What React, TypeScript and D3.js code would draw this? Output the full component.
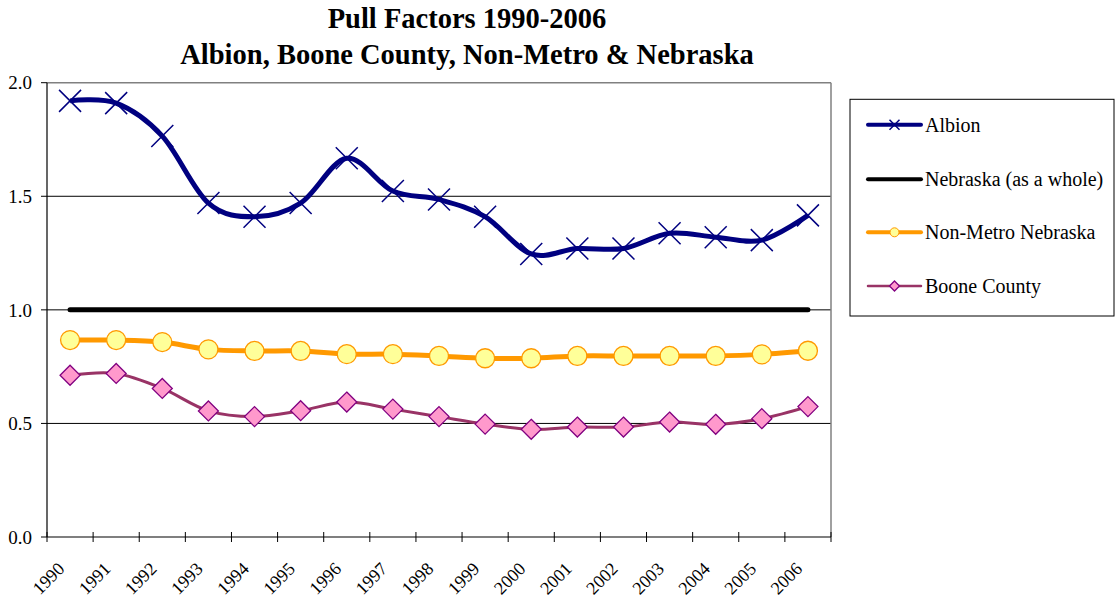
import React, { useEffect } from "react";
import * as d3 from "d3";

const years = ["1990","1991","1992","1993","1994","1995","1996","1997","1998","1999","2000","2001","2002","2003","2004","2005","2006"];
const albion = [1.92,1.91,1.765,1.47,1.41,1.47,1.667,1.523,1.486,1.41,1.246,1.27,1.27,1.337,1.32,1.307,1.416];
const nebraska = [1,1,1,1,1,1,1,1,1,1,1,1,1,1,1,1,1];
const nonMetro = [0.867,0.867,0.858,0.826,0.819,0.819,0.805,0.805,0.797,0.787,0.787,0.797,0.797,0.797,0.797,0.804,0.82];
const boone = [0.712,0.72,0.654,0.555,0.53,0.556,0.594,0.563,0.53,0.497,0.474,0.484,0.484,0.506,0.496,0.521,0.574];
const yTicks = [0, 0.5, 1.0, 1.5, 2.0];
const titleLines = ["Pull Factors 1990-2006", "Albion, Boone County, Non-Metro & Nebraska"];
const legendLabels = ["Albion", "Nebraska (as a whole)", "Non-Metro Nebraska", "Boone County"];

const W = 1118, H = 599;
const L = 47, R = 831, T = 82.7, B = 537;
const FONT = "Liberation Serif";

export default function App() {
  useEffect(() => {
    document.body.style.margin = "0";
  }, []);

  const x = d3.scaleBand<string>().domain(years).range([L, R]);
  const cx = (y: string) => (x(y) as number) + x.bandwidth() / 2;
  const y = d3.scaleLinear().domain([0, 2]).range([B, T]);

  const smooth = d3.line<number>().x((_, i) => cx(years[i])).y((v) => y(v)).curve(d3.curveCardinal.tension(0));
  const straight = d3.line<number>().x((_, i) => cx(years[i])).y((v) => y(v));

  const xMark = (px: number, py: number, s: number, key: any, color = "#000080") => (
    <path key={key} d={`M${px - s},${py - s}L${px + s},${py + s}M${px - s},${py + s}L${px + s},${py - s}`} stroke={color} strokeWidth={1.5} fill="none" />
  );
  const diamond = (px: number, py: number, s: number, key: any) => (
    <path key={key} d={`M${px},${py - s}L${px + s},${py}L${px},${py + s}L${px - s},${py}Z`} fill="#FF99CC" stroke="#800080" strokeWidth={1.3} />
  );

  const legendRows = [124.7, 179.3, 232.3, 286];

  return (
    <svg width={W} height={H} style={{ display: "block", fontFamily: FONT }}>
      <rect width={W} height={H} fill="#fff" />
      {/* title */}
      {titleLines.map((t, i) => (
        <text key={t} x={467} y={28 + i * 36} textAnchor="middle" fontWeight="bold" fontSize={28.5} fontFamily={FONT}>{t}</text>
      ))}
      {/* gridlines */}
      {yTicks.filter((v) => v > 0 && v < 2).map((v) => (
        <line key={v} x1={L} x2={R} y1={y(v)} y2={y(v)} stroke="#000" strokeWidth={1} />
      ))}
      {/* frame */}
      <line x1={L} x2={R} y1={T} y2={T} stroke="#808080" strokeWidth={1.5} />
      <line x1={R} x2={R} y1={T} y2={B} stroke="#808080" strokeWidth={1.5} />
      <line x1={L} x2={L} y1={T} y2={B} stroke="#000" strokeWidth={1.2} />
      <line x1={L} x2={R} y1={B} y2={B} stroke="#000" strokeWidth={1.2} />
      {/* y ticks */}
      {yTicks.map((v) => (
        <g key={v}>
          <line x1={L - 6} x2={L} y1={y(v)} y2={y(v)} stroke="#000" />
          <text x={32} y={y(v)} dy="0.35em" textAnchor="end" fontSize={19} fontFamily={FONT}>{v.toFixed(1)}</text>
        </g>
      ))}
      {/* x ticks */}
      {years.concat(["end"]).map((yr, i) => {
        const px = L + i * x.step();
        return <line key={yr} x1={px} x2={px} y1={B - 5} y2={B + 5} stroke="#000" />;
      })}
      {years.map((yr) => (
        <text key={yr} transform={`translate(${cx(yr) - 4.5},${570}) rotate(-45)`} textAnchor="end" fontSize={18} fontFamily={FONT}>{yr}</text>
      ))}
      {/* series */}
      <path d={straight(nebraska) as string} stroke="#000" strokeWidth={5} fill="none" strokeLinecap="round" />
      <path d={smooth(nonMetro) as string} stroke="#FF9900" strokeWidth={5} fill="none" />
      {nonMetro.map((v, i) => (
        <circle key={i} cx={cx(years[i])} cy={y(v)} r={9.5} fill="#FFFF99" stroke="#FF9900" strokeWidth={1.3} />
      ))}
      <path d={smooth(boone) as string} stroke="#993366" strokeWidth={3} fill="none" />
      {boone.map((v, i) => diamond(cx(years[i]), y(v), 10, i))}
      <path d={smooth(albion) as string} stroke="#000080" strokeWidth={5} fill="none" />
      {albion.map((v, i) => xMark(cx(years[i]), y(v), 11, i))}
      {/* legend */}
      <rect x={850} y={99.3} width={264} height={216.7} fill="#fff" stroke="#000" strokeWidth={1} />
      {legendLabels.map((lab, i) => {
        const ly = legendRows[i];
        const lx1 = 868, lx2 = 921, mx = (lx1 + lx2) / 2;
        return (
          <g key={lab}>
            {i === 0 && <line x1={lx1} x2={lx2} y1={ly} y2={ly} stroke="#000080" strokeWidth={4} strokeLinecap="round" />}
            {i === 0 && xMark(mx, ly, 5, "lm")}
            {i === 1 && <line x1={lx1} x2={lx2} y1={ly} y2={ly} stroke="#000" strokeWidth={4} strokeLinecap="round" />}
            {i === 2 && <line x1={lx1} x2={lx2} y1={ly} y2={ly} stroke="#FF9900" strokeWidth={4} strokeLinecap="round" />}
            {i === 2 && <circle cx={mx} cy={ly} r={4.5} fill="#FFFF99" stroke="#FF9900" strokeWidth={1} />}
            {i === 3 && <line x1={lx1} x2={lx2} y1={ly} y2={ly} stroke="#993366" strokeWidth={2.5} strokeLinecap="round" />}
            {i === 3 && diamond(mx, ly, 5, "ld")}
            <text x={925} y={ly} dy="0.35em" fontSize={20} fontFamily={FONT}>{lab}</text>
          </g>
        );
      })}
    </svg>
  );
}
